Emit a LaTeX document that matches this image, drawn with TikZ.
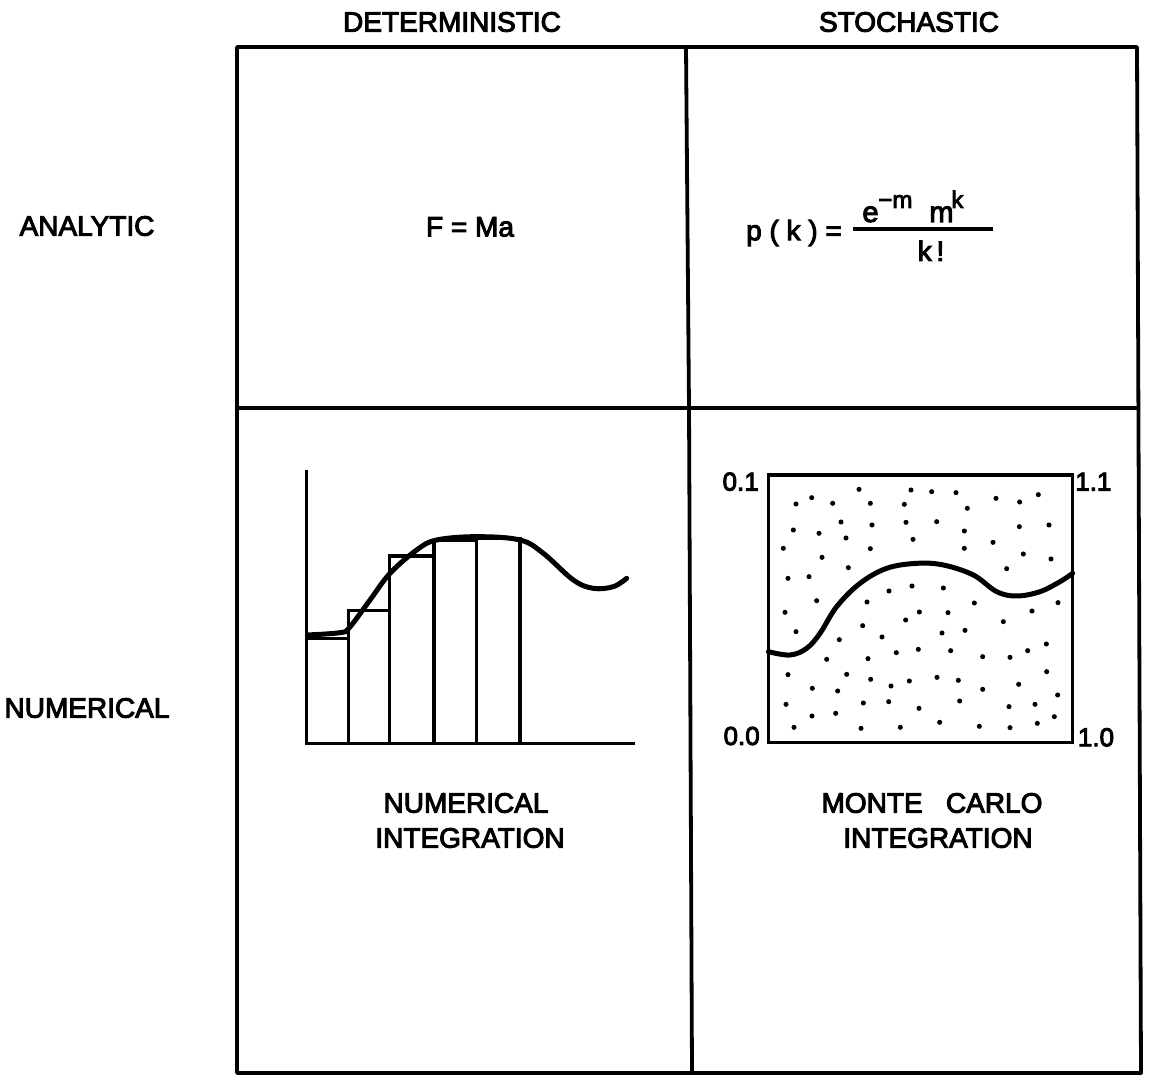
\documentclass[tikz,border=0pt]{standalone}
\usepackage{fontspec}
\setmainfont{Liberation Sans}[FakeBold=3.5]
\begin{document}
\begin{tikzpicture}[x=0.5pt,y=-0.5pt,
  gridline/.style={line width=1.9pt, line join=round},
  boxline/.style={line width=1.8pt},
  curveline/.style={line width=2.5pt, line cap=round},
  lbl/.style={font=\fontsize{14}{16}\selectfont, inner sep=0pt},
  smalllbl/.style={font=\fontsize{13}{15}\selectfont, inner sep=0pt},
  supl/.style={font=\fontsize{12}{14}\selectfont, inner sep=0pt, anchor=base west},
  basel/.style={font=\fontsize{14.5}{16}\selectfont, inner sep=0pt, anchor=base west},
  dot/.style={fill=black}]
\useasboundingbox (0,0) rectangle (1151,1079);

% grid
\coordinate (TL) at (237,47);
\coordinate (TM) at (686,47);
\coordinate (TR) at (1137,47);
\coordinate (ML) at (237,408);
\coordinate (MM) at (689,408);
\coordinate (MR) at (1140,408);
\coordinate (BL) at (237,1073);
\coordinate (BM) at (692,1073);
\coordinate (BR) at (1141,1073);
\draw[gridline] (TL) -- (TR) -- (BR) -- (BL) -- cycle;
\draw[gridline] (TM) -- (MM) -- (BM);
\draw[gridline] (ML) -- (MR);

% headings
\node[lbl] (det) at (452,22) {DETERMINISTIC};
\node[lbl] (sto) at (909,22) {STOCHASTIC};
\node[lbl] (ana) at (87,226) {ANALYTIC};
\node[lbl] (num) at (87,708) {NUMERICAL};

% analytic deterministic
\node[lbl] (fma) at (470,227) {F = Ma};

% analytic stochastic
\node[lbl] (pk) at (794,233) {p ( k ) =};
\coordinate (fracL) at (853,229);
\coordinate (fracR) at (993,229);
\draw[line width=1.7pt] (fracL) -- (fracR);
\node[basel] (e) at (862,222) {e};
\node[supl] (em) at (878,208) {−m};
\node[basel] (m) at (929,222) {m};
\node[supl] (mk) at (951,208) {k};
\node[lbl, anchor=base] (kf) at (931,261) {k\,!};

% numerical integration
\begin{scope}[shift={(290,460)}, scale=1/3]
  \draw[boxline] (50,850) rectangle (175,535);
  \draw[boxline] (175,850) rectangle (298,452);
  \draw[boxline] (298,850) rectangle (432,288);
  \draw[boxline] (432,850) rectangle (560,242);
  \draw[boxline] (560,850) rectangle (690,235);
  \draw[boxline] (50,30) -- (50,850);
  \draw[boxline] (45,850) -- (1035,850);
  \draw[curveline] plot[smooth, tension=0.6] coordinates {(52,525) (150,518) (178,503) (240,420) (300,340) (380,270) (440,240) (560,230) (690,240) (760,280) (850,360) (910,385) (970,380) (1010,355)};
\end{scope}
\node[lbl] (ni1) at (466,803) {NUMERICAL};
\node[lbl] (ni2) at (470,838) {INTEGRATION};

% Monte Carlo
\begin{scope}[shift={(710,460)}, scale=1/3]
  \draw[boxline] (175,45) rectangle (1088,848);
  \draw[curveline] plot[smooth, tension=0.6] coordinates {(175,575) (240,585) (290,565) (330,520) (380,440) (450,370) (530,325) (620,310) (700,315) (790,345) (860,395) (920,408) (990,395) (1050,365) (1088,340)};
  \foreach \px/\py in {258/132,305/113,368/130,447/88,481/130,583/133,603/90,665/95,738/98,772/145,858/115,929/126,985/104,
    250/210,327/220,393/186,408/234,486/195,588/187,680/185,609/238,763/213,849/247,928/200,1017/195,
    220/265,336/292,481/266,763/265,940/282,1023/297,
    234/355,297/350,415/323,890/326,
    320/422,225/457,258/515,537/393,606/378,700/384,471/426,793/429,1044/428,966/453,628/456,714/458,587/480,880/485,458/497,516/531,696/519,765/511,388/539,1009/552,953/572,559/578,625/568,722/572,818/590,900/592,350/598,474/596,
    234/644,410/643,482/658,543/678,598/663,681/652,745/661,818/688,926/673,1010/635,307/685,383/693,
    228/733,460/729,536/725,627/745,749/723,1043/705,897/740,975/733,306/768,377/760,1033/770,
    252/802,453/805,571/802,689/787,808/799,900/803,982/790}
    \fill[dot] (\px,\py) circle[radius=3.8pt];
  \node[smalllbl] (l01) at (92,65) {0.1};
  \node[smalllbl] (l11) at (1150,65) {1.1};
  \node[smalllbl] (l00) at (95,828) {0.0};
  \node[smalllbl] (l10) at (1158,832) {1.0};
\end{scope}
\node[lbl] (mc1) at (932,803) {MONTE\ \ \ CARLO};
\node[lbl] (mc2) at (938,838) {INTEGRATION};
\end{tikzpicture}
\end{document}
